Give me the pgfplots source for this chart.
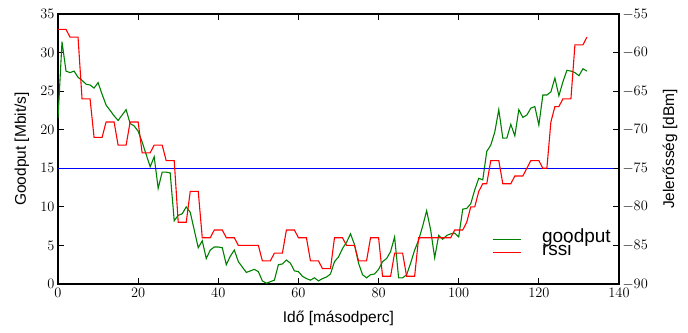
\documentclass[border=0pt]{standalone}
\usepackage{pgfplots}
\pgfplotsset{compat=1.18}
\usepackage{pgfplotstable}
\usepackage{fontspec}
\setmainfont{Liberation Sans}
\definecolor{mplgreen}{rgb}{0,0.5,0}

\pgfplotstableread{
x y
0 21.5
1 31.4
2 27.6
3 27.4
4 27.6
5 26.8
6 26.4
7 25.9
8 25.8
9 25.4
10 26.1
11 24.6
12 23.2
13 22.5
14 21.8
15 21.2
16 21.9
17 22.6
18 20.8
19 20.5
20 19.8
21 18.4
22 16.8
23 15.2
24 16.5
25 12.4
26 14.5
27 14.5
28 14.4
29 8.2
30 8.9
31 9.1
32 10.0
33 9.3
34 7.0
35 4.7
36 5.6
37 3.3
38 4.4
39 4.8
40 4.8
41 4.7
42 2.5
43 3.6
44 4.4
45 2.9
46 2.2
47 1.5
48 1.7
49 1.9
50 1.6
51 0.4
52 0.1
53 0.3
54 0.5
55 2.5
56 2.6
57 3.1
58 2.7
59 1.7
60 1.6
61 1.0
62 0.7
63 0.5
64 0.8
65 0.4
66 0.7
67 0.9
68 1.3
69 2.9
70 3.5
71 4.6
72 5.4
73 6.5
74 5.1
75 2.7
76 1.2
77 0.8
78 1.2
79 1.3
80 1.9
81 2.9
82 3.3
83 4.2
84 6.1
85 0.8
86 0.8
87 1.2
88 2.7
89 4.4
90 5.7
91 7.5
92 9.5
93 7.0
94 3.4
95 6.3
96 5.8
97 6.3
98 6.5
99 6.6
100 6.1
101 9.7
102 9.8
103 10.4
104 12.2
105 13.7
106 13.5
107 17.2
108 18.0
109 19.7
110 22.6
111 18.9
112 18.9
113 20.7
114 19.2
115 22.6
116 21.6
117 21.9
118 22.8
119 23.0
120 20.6
121 24.5
122 24.5
123 24.9
124 26.7
125 24.4
126 26.2
127 27.7
128 27.6
129 27.4
130 27.0
131 27.9
132 27.6
}\goodput

\pgfplotstableread{
x y
0 -57
1 -57
2 -57
3 -58
4 -58
5 -58
6 -66
7 -66
8 -66
9 -71
10 -71
11 -71
12 -69
13 -69
14 -69
15 -72
16 -72
17 -72
18 -69
19 -69
20 -69
21 -73
22 -73
23 -73
24 -72
25 -72
26 -72
27 -74
28 -74
29 -74
30 -82
31 -82
32 -82
33 -78
34 -78
35 -78
36 -84
37 -84
38 -84
39 -83
40 -83
41 -83
42 -84
43 -84
44 -84
45 -85
46 -85
47 -85
48 -85
49 -85
50 -85
51 -87
52 -87
53 -87
54 -86
55 -86
56 -86
57 -83
58 -83
59 -83
60 -84
61 -84
62 -84
63 -87
64 -87
65 -87
66 -88
67 -88
68 -88
69 -84
70 -84
71 -84
72 -85
73 -85
74 -85
75 -87
76 -87
77 -87
78 -84
79 -84
80 -84
81 -89
82 -89
83 -89
84 -86
85 -86
86 -86
87 -89
88 -89
89 -89
90 -84
91 -84
92 -84
93 -84
94 -84
95 -84
96 -84
97 -84
98 -84
99 -83
100 -83
101 -83
102 -82
103 -80
104 -80
105 -78
106 -77
107 -77
108 -74
109 -74
110 -74
111 -77
112 -77
113 -77
114 -76
115 -76
116 -76
117 -75
118 -74
119 -74
120 -74
121 -75
122 -75
123 -69
124 -67
125 -67
126 -66
127 -66
128 -66
129 -59
130 -59
131 -59
132 -58
}\rssi

\begin{document}
\begin{tikzpicture}
\path[use as bounding box] (-58pt,-48pt) rectangle (630pt,284pt);
\pgfplotsset{
  base/.style={
    at={(0pt,0pt)}, anchor=south west,
    scale only axis, width=561pt, height=270pt,
    xmin=0, xmax=140,
    axis line style={line width=1.6pt},
    tick style={black, line width=0.8pt},
    major tick length=6pt,
    tick align=inside,
    ticklabel style={font=\fontsize{15}{18}\selectfont},
    label style={font=\fontsize{15.5}{18}\selectfont},
  }
}
\begin{axis}[base,
  ymin=0, ymax=35,
  xtick={0,20,...,140},
  ytick={0,5,...,35},
  xtick pos=both,
  ytick pos=left,
  xticklabel style={yshift=-1pt},
  xlabel={Idő [másodperc]},
  ylabel={Goodput [Mbit/s]},
  xlabel style={at={(axis description cs:0.5,-0.126)}, anchor=center},
  ylabel style={at={(axis description cs:-0.0642,0.5)}, anchor=center},
]
\addplot[mplgreen, line width=1.1pt] table {\goodput};
\addplot[blue, line width=1.1pt] coordinates {(0,15) (140,15)};
\end{axis}
\begin{axis}[base,
  ymin=-90, ymax=-55,
  ytick={-90,-85,...,-55},
  axis x line=none,
  axis y line*=right,
  ylabel={Jelerősség [dBm]},
  ylabel style={at={(axis description cs:1.0909,0.5)}, anchor=center},
  legend style={draw=none, fill=none, inner sep=0pt, outer sep=0pt,
    at={(axis description cs:0.7736,0.1907)}, anchor=north west,
    font=\fontsize{19}{19}\selectfont,
    nodes={inner sep=0pt, text height=9.5pt, text depth=4pt},
    /tikz/every even column/.append style={column sep=0pt},
  },
  legend cell align=left,
  legend image code/.code={\draw[#1] (0pt,0pt) -- (28pt,0pt);},
  legend style={/tikz/every odd column/.append style={column sep=21pt}},
]
\addlegendimage{mplgreen, line width=1.1pt}
\addlegendentry{goodput}
\addplot[red, line width=1.1pt] table {\rssi};
\addlegendentry{rssi}
\end{axis}
\end{tikzpicture}
\end{document}
